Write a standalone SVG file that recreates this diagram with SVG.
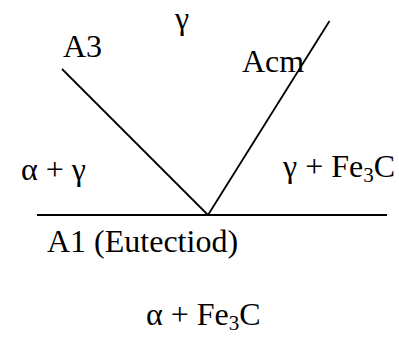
<svg xmlns="http://www.w3.org/2000/svg" width="399" height="344" viewBox="0 0 399 344">
<style>
.ln{stroke:#000;stroke-width:1.8;fill:none}
</style>
<rect width="399" height="344" fill="#fff"/>
<g id="connectors">
<line class="ln" x1="37" y1="215" x2="387" y2="215"/>
<line class="ln" x1="62" y1="69" x2="208" y2="215"/>
<line class="ln" x1="329.5" y1="21" x2="208" y2="215"/>
</g>
<g font-family="Liberation Serif, Times New Roman, serif" font-size="32" fill="#000">
<g id="gamma"><text x="175" y="29">γ</text></g>
<g id="A3"><text x="63" y="57">A3</text></g>
<g id="Acm"><text x="242" y="72">Acm</text></g>
<g id="alpha-gamma"><text x="21" y="180">α + γ</text></g>
<g id="gamma-Fe3C"><text x="283" y="177">γ + Fe<tspan font-size="21" dy="5">3</tspan><tspan dy="-5">C</tspan></text></g>
<g id="A1"><text x="47" y="252">A1 (Eutectiod)</text></g>
<g id="alpha-Fe3C"><text x="146" y="325">α + Fe<tspan font-size="21" dy="5">3</tspan><tspan dy="-5">C</tspan></text></g>
</g>
</svg>
